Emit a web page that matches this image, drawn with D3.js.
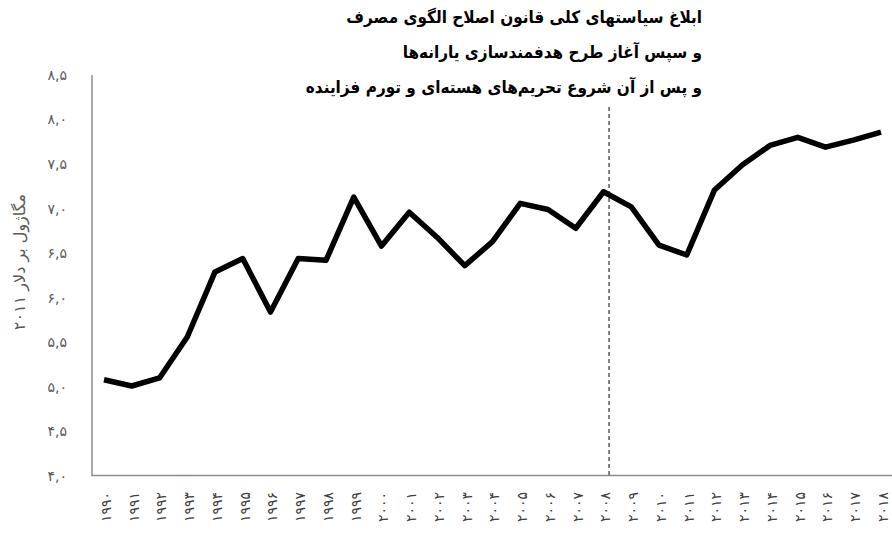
<!DOCTYPE html>
<html>
<head>
<meta charset="utf-8">
<script src="https://cdn.jsdelivr.net/npm/d3@7"></script>
<style>
  body { margin: 0; background: #fff; }
  svg { display: block; }
</style>
</head>
<body>
<div id="chart"></div>
<script>
// energy intensity, MJ per 2011 dollar
const years = d3.range(1990, 2019)
const values = [5.08, 5.01, 5.10, 5.56, 6.29, 6.44, 5.84, 6.44, 6.42, 7.13,
                6.58, 6.96, 6.68, 6.36, 6.63, 7.06, 6.99, 6.78, 7.19, 7.02,
                6.59, 6.48, 7.21, 7.49, 7.71, 7.80, 7.69, 7.77, 7.86]
const yTicks = [4.0, 4.5, 5.0, 5.5, 6.0, 6.5, 7.0, 7.5, 8.0, 8.5]
const markerYear = 2008.2
const yTitle = 'مگاژول بر دلار ۲۰۱۱'
const noteLines = [
	'ابلاغ سیاستهای کلی قانون اصلاح الگوی مصرف',
	'و سپس آغاز طرح هدفمندسازی یارانه‌ها',
	'و پس از آن شروع تحریم‌های هسته‌ای و تورم فزاینده'
]

const W = 892, H = 534
const fa = s => String(s).replace(/[0-9]/g, d => '۰۱۲۳۴۵۶۷۸۹'[+d])
const faDec = v => fa(v.toFixed(1)).replace('.', ',')

const svg = d3.select('#chart').append('svg')
	.attr('width', W).attr('height', H)

const axisLeft = 92, axisBottom = 475.5

const x = d3.scaleLinear().domain([1990, 2018]).range([104, 881])
const y = d3.scaleLinear().domain([4, 8.5]).range([476, 75])

const axisColor = '#8c8c8c'
const fontFam = "'DejaVu Sans', 'Noto Sans', sans-serif"

// axis lines
svg.append('line')
	.attr('x1', axisLeft).attr('x2', axisLeft)
	.attr('y1', y(8.5)).attr('y2', axisBottom)
	.attr('stroke', axisColor).attr('stroke-width', 1.5)
svg.append('line')
	.attr('x1', axisLeft - 0.75).attr('x2', W)
	.attr('y1', axisBottom).attr('y2', axisBottom)
	.attr('stroke', axisColor).attr('stroke-width', 1.5)

// y tick labels
svg.append('g').selectAll('text')
	.data(yTicks)
	.enter()
	.append('text')
	.attr('x', 67)
	.attr('y', d => y(d))
	.attr('dy', '0.35em')
	.attr('text-anchor', 'end')
	.attr('direction', 'ltr')
	.attr('font-family', fontFam)
	.attr('font-size', 14)
	.attr('fill', '#595959')
	.text(d => faDec(d))

// x tick labels, rotated
svg.append('g').selectAll('text')
	.data(years)
	.enter()
	.append('text')
	.attr('transform', d => 'translate(' + (x(d) + 2) + ',' + 492 + ') rotate(-90)')
	.attr('dy', '0.35em')
	.attr('text-anchor', 'end')
	.attr('direction', 'ltr')
	.attr('font-family', fontFam)
	.attr('font-size', 14)
	.attr('fill', '#404040')
	.text(d => fa(d))

// y title
svg.append('text')
	.attr('transform', 'translate(19,' + 262 + ') rotate(-90)')
	.attr('text-anchor', 'middle')
	.attr('dy', '0.35em')
	.attr('font-family', fontFam)
	.attr('font-size', 16)
	.attr('fill', '#595959')
	.text(yTitle)

// dashed marker line
svg.append('line')
	.attr('x1', x(markerYear)).attr('x2', x(markerYear))
	.attr('y1', 107).attr('y2', axisBottom)
	.attr('stroke', '#000').attr('stroke-width', 1)
	.attr('stroke-dasharray', '4,3')

// main series
const line = d3.line()
	.x((d, i) => x(years[i]))
	.y(d => y(d))

svg.append('path')
	.datum(values)
	.attr('d', line)
	.attr('fill', 'none')
	.attr('stroke', '#000')
	.attr('stroke-width', 5.5)
	.attr('stroke-linejoin', 'round')

// annotation, squeezed a bit to match the narrow source font
svg.append('g')
	.attr('transform', 'translate(702,0) scale(0.9,1)')
	.selectAll('text')
	.data(noteLines)
	.enter()
	.append('text')
	.attr('x', 0)
	.attr('y', (d, i) => 23 + i * 35)
	.attr('text-anchor', 'start')
	.attr('direction', 'rtl')
	.attr('font-family', fontFam)
	.attr('font-size', 17)
	.attr('font-weight', 'bold')
	.attr('fill', '#000')
	.text(d => d)
</script>
</body>
</html>
